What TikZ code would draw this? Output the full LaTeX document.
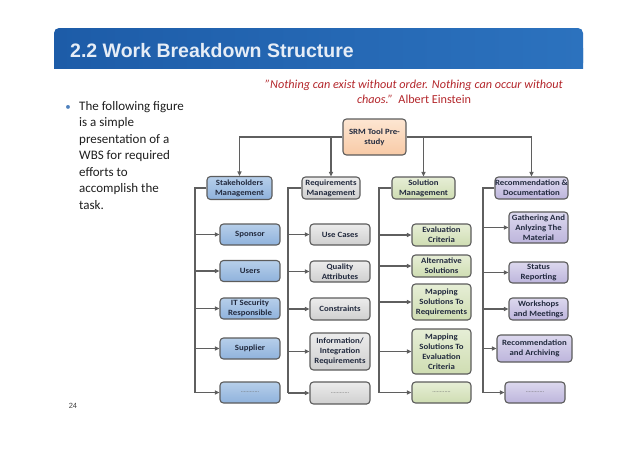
\documentclass[tikz,border=0pt]{standalone}
\usepackage{fontspec}
\setmainfont{Carlito}
\newfontfamily\titlefont{Liberation Sans}
\newfontfamily\boxfont[FakeStretch=1.1]{Carlito}
\usetikzlibrary{arrows.meta}

\definecolor{titleA}{HTML}{1D5CA8}
\definecolor{titleB}{HTML}{2C72BE}
\definecolor{titletext}{HTML}{E6EDF6}
\definecolor{quotered}{HTML}{B3262B}
\definecolor{bulletblue}{HTML}{4F81BD}
\definecolor{bodytext}{HTML}{1E1E1E}
\definecolor{boxline}{HTML}{5C5C5C}
\definecolor{linegray}{HTML}{5F5F5F}
\definecolor{boxtext}{HTML}{222A3E}
\definecolor{blueTop}{HTML}{B7CFEA}
\definecolor{blueBot}{HTML}{8FB2DC}
\definecolor{greyTop}{HTML}{ECECEC}
\definecolor{greyBot}{HTML}{CFCFCF}
\definecolor{greenTop}{HTML}{E6EED6}
\definecolor{greenBot}{HTML}{CFDDB2}
\definecolor{purpTop}{HTML}{DCD8EE}
\definecolor{purpBot}{HTML}{BDB5DC}
\definecolor{peachTop}{HTML}{FDE6D2}
\definecolor{peachBot}{HTML}{F8CAA6}

\begin{document}
\begin{tikzpicture}[
  x=1pt, y=-1pt,
  wbs/.style={draw=boxline, line width=1.1pt, rounded corners=3.5pt, align=center, inner sep=0pt,
    minimum width=60pt, minimum height=21pt, text=boxtext, font=\boxfont\bfseries\fontsize{8}{10}\selectfont},
  rootbox/.style={wbs, top color=peachTop, bottom color=peachBot},
  stakebox/.style={wbs, top color=blueTop, bottom color=blueBot},
  reqbox/.style={wbs, top color=greyTop, bottom color=greyBot},
  solbox/.style={wbs, top color=greenTop, bottom color=greenBot},
  recbox/.style={wbs, top color=purpTop, bottom color=purpBot},
  dots/.style={font=\fontsize{6}{6}\selectfont, text=black!60},
  trunk/.style={draw=linegray, line width=1.1pt},
  link/.style={trunk, -{Triangle[length=4.5pt,width=4pt]}}
]
\useasboundingbox (0,0) rectangle (638,451);

% header
\shade[left color=titleA, right color=titleB, rounded corners=5pt] (54,28) rectangle (583,68);
\shade[left color=titleA, right color=titleB] (54,48) rectangle (583,68);
\node[anchor=base west, inner sep=0pt, text=titletext, font=\titlefont\bfseries\fontsize{19.5}{22}\selectfont] (title) at (70,57) {2.2 Work Breakdown Structure};

\node[align=center, inner sep=0pt, text=quotered, font=\fontsize{12.2}{15.5}\selectfont] (quote) at (414,92)
  {\itshape "Nothing can exist without order. Nothing can occur without\\\itshape chaos."\ \ \upshape Albert Einstein};

\node[anchor=base, inner sep=0pt, text=bulletblue, font=\fontsize{11}{13}\selectfont] (dot) at (68,110) {\textbullet};
\node[anchor=north west, align=left, inner sep=0pt, text=bodytext, font=\fontsize{13}{16.5}\selectfont] (intro) at (79,101)
  {The following figure\\is a simple\\presentation of a\\WBS for required\\efforts to\\accomplish the\\task.};

\node[inner sep=0pt, text=black!75, font=\titlefont\fontsize{7.5}{9}\selectfont] (pagenum) at (73,406) {24};

% level 0 and 1
\node[rootbox, minimum width=63pt, minimum height=36pt] (root) at (374.5,137) {SRM Tool Pre-\\study};
\node[stakebox, minimum width=65pt, minimum height=23pt] (stake) at (239.5,188) {Stakeholders\\Management};
\node[reqbox, minimum width=58pt, minimum height=22pt] (req) at (331,188) {Requirements\\Management};
\node[solbox, minimum width=63pt, minimum height=22pt] (sol) at (423.5,188) {Solution\\Management};
\node[recbox, minimum width=73pt, minimum height=22pt] (rec) at (531.5,188) {Recommendation \&\\Documentation};

\draw[link] (root.west) -| (stake);
\draw[link] (root.west) -| (req);
\draw[link] (root.east) -| (sol);
\draw[link] (root.east) -| (rec);

% stakeholders
\node[stakebox] (s1) at (250,234.5) {Sponsor};
\node[stakebox] (s2) at (250,271) {Users};
\node[stakebox] (s3) at (250,308.5) {IT Security\\Responsible};
\node[stakebox] (s4) at (250,348.5) {Supplier};
\node[stakebox, dots] (s5) at (250,392.5) {............};

% requirements
\node[reqbox] (r1) at (340,234.5) {Use Cases};
\node[reqbox] (r2) at (340,271.5) {Quality\\Attributes};
\node[reqbox, minimum height=22pt] (r3) at (340,309) {Constraints};
\node[reqbox, minimum height=37pt] (r4) at (340,351.5) {Information/\\Integration\\Requirements};
\node[reqbox, dots, minimum height=22pt] (r5) at (340,393) {............};

% solution
\node[solbox, minimum width=59pt, minimum height=22pt] (e1) at (441.5,235) {Evaluation\\Criteria};
\node[solbox, minimum width=59pt, minimum height=22pt] (e2) at (441.5,266) {Alternative\\Solutions};
\node[solbox, minimum width=59pt, minimum height=36pt] (e3) at (441.5,302) {Mapping\\Solutions To\\Requirements};
\node[solbox, minimum width=59pt, minimum height=45pt] (e4) at (441.5,351.5) {Mapping\\Solutions To\\Evaluation\\Criteria};
\node[solbox, dots, minimum width=59pt] (e5) at (441.5,392.5) {............};

% recommendation
\node[recbox, minimum width=59pt, minimum height=31pt] (d1) at (538.5,227.5) {Gathering And\\Anlyzing The\\Material};
\node[recbox, minimum width=59pt] (d2) at (538.5,272.5) {Status\\Reporting};
\node[recbox, minimum width=59pt, minimum height=22pt] (d3) at (538.5,309) {Workshops\\and Meetings};
\node[recbox, minimum width=75pt, minimum height=27pt] (d4) at (534.5,348.5) {Recommendation\\and Archiving};
\node[recbox, dots] (d5) at (535,392.5) {............};

\coordinate (sk) at (195,0);
\coordinate (rk) at (288,0);
\coordinate (ek) at (379,0);
\coordinate (dk) at (483,0);

\draw[trunk] (stake.west) -| (sk |- s5);
\draw[trunk] (req.west) -| (rk |- r5);
\draw[trunk] (sol.west) -| (ek |- e5);
\draw[trunk] (rec.west) -| (dk |- d5);

\foreach \c in {s1,s2,s3,s4,s5} \draw[link] (sk |- \c) -- (\c);
\foreach \c in {r1,r2,r3,r4,r5} \draw[link] (rk |- \c) -- (\c);
\foreach \c in {e1,e2,e3,e4,e5} \draw[link] (ek |- \c) -- (\c);
\foreach \c in {d1,d2,d3,d4,d5} \draw[link] (dk |- \c) -- (\c);
\end{tikzpicture}
\end{document}
